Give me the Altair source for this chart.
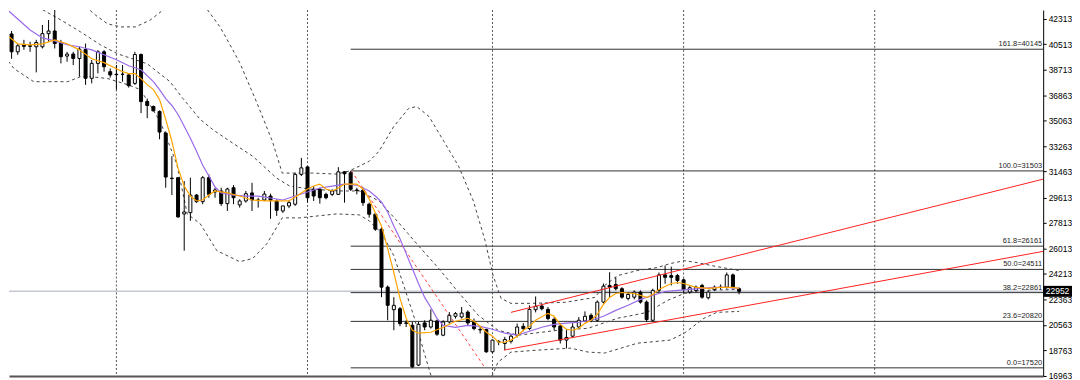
import altair as alt
import pandas as pd

# ---------------- data ----------------
opens = [39610, 41230, 39960, 40460, 40390, 40320, 40320, 41250, 41440, 40620,
         39660, 39800, 39490, 40120, 38080, 39140, 39960, 38550, 38370, 38360,
         38320, 37720, 39770, 36430, 36080, 35730, 34190, 30990, 31020, 28450,
         28540, 29790, 29320, 31020, 30010, 30080, 29180, 30310, 29090, 29370,
         29940, 29440, 29440, 29720, 29370, 28660, 29020, 29140, 31260, 31790,
         30200, 30200, 29840, 29840, 29840, 31440, 31370, 30150, 30130, 29140,
         28430, 27370, 23250, 21650, 21720, 20710, 20540, 17720, 20710, 20420,
         20850, 19840, 20780, 21180, 21130, 21480, 20780, 20240, 20240, 18660,
         19370, 19250, 19410, 19840, 20470, 20310, 21650, 21910, 21670, 20970,
         20490, 19490, 19770, 20420, 20850, 21250, 20900, 22190, 23370, 23440,
         23140, 22450, 22540, 22900, 22190, 20900, 23020, 24120, 24070, 24070,
         23770, 22900, 23020, 23370, 22500, 23070, 23230, 23250, 24120, 23140]
highs = [41440, 41440, 40530, 40810, 40670, 40810, 41870, 42220, 43020, 40810,
         39960, 39960, 40320, 40550, 39380, 40080, 40080, 38780, 39020, 39020,
         38430, 39960, 39840, 36640, 36150, 35800, 34310, 32550, 31060, 30780,
         31020, 29860, 31140, 31260, 30310, 30310, 30310, 30500, 29490, 30080,
         30660, 29600, 30080, 29890, 29490, 29020, 29420, 31370, 32430, 31840,
         30430, 30310, 29960, 30200, 31770, 31490, 31500, 30310, 30310, 29250,
         28540, 27490, 23370, 22540, 21840, 20900, 20780, 20780, 20900, 21670,
         20950, 20900, 21480, 21480, 21840, 21600, 21020, 20420, 20310, 19530,
         19490, 19720, 19910, 20660, 20690, 21960, 22590, 22100, 21840, 21110,
         20690, 20190, 20690, 21130, 21530, 21390, 22310, 23510, 24310, 23950,
         23250, 22900, 23020, 23020, 22310, 23140, 24290, 24780, 24710, 24190,
         23860, 23370, 23370, 23490, 23020, 23370, 23440, 24290, 24220, 23230]
lows = [39470, 39470, 39750, 40100, 39960, 38500, 40200, 40670, 40200, 39140,
        39260, 39020, 38200, 37610, 37720, 38430, 38550, 38130, 37260, 37840,
        37420, 37610, 35610, 35250, 35730, 33750, 30310, 29790, 28170, 25840,
        27960, 29230, 29140, 29600, 29600, 29020, 28660, 29140, 28900, 29250,
        28660, 28900, 29370, 28100, 28310, 28520, 28860, 29020, 31140, 29250,
        29370, 29180, 29490, 29720, 29790, 29250, 30080, 29840, 29020, 28190,
        27250, 22540, 20900, 20190, 20470, 20420, 17490, 17650, 20190, 20310,
        19790, 19770, 20660, 21020, 21020, 20540, 20190, 19960, 18590, 18590,
        19130, 18780, 19250, 19680, 20120, 20190, 21460, 21600, 20900, 20190,
        19250, 18900, 19630, 20330, 20760, 20760, 20780, 22080, 22540, 23020,
        22430, 22310, 22380, 22080, 20780, 20780, 22900, 23490, 23370, 23490,
        22870, 22780, 22870, 22430, 22380, 22970, 23090, 23140, 23140, 22740]
closes = [41230, 39960, 40390, 40350, 40350, 40620, 41250, 41440, 40550, 39610,
          39800, 39490, 40150, 38080, 39140, 39960, 38900, 38320, 38340, 38370,
          37560, 39770, 36430, 36150, 35770, 34260, 31070, 30960, 28240, 28590,
          29790, 29320, 31020, 29840, 30150, 29180, 30220, 29600, 29370, 29890,
          29440, 29410, 29860, 29420, 28710, 29020, 29250, 31260, 31720, 29600,
          29720, 29600, 29600, 30080, 31440, 31300, 30200, 30110, 29250, 28430,
          27370, 23250, 21960, 21960, 20660, 20680, 17600, 20610, 20420, 20900,
          19910, 20780, 21250, 21370, 21410, 20710, 20310, 20220, 18660, 19490,
          19400, 19530, 19770, 20420, 20300, 21670, 21890, 21720, 21020, 20420,
          19490, 19680, 20420, 20900, 21180, 20900, 22190, 23320, 23250, 23140,
          22540, 22730, 22900, 22190, 20950, 23020, 24120, 23950, 23950, 23720,
          23070, 23210, 23250, 22540, 22900, 23250, 23250, 24120, 23250, 22952]

# fast moving average (orange)
fast_x = [0, 2, 4, 6, 8, 10, 12, 14, 16, 18, 19, 20, 21, 22, 23, 24, 25, 26, 27, 28,
          29, 30, 31, 32, 33, 34, 35, 36, 38, 40, 42, 44, 46, 47, 48, 49, 50, 51, 52, 53,
          54, 55, 57, 58, 59, 60, 61, 62, 63, 64, 65, 66, 67, 69, 71, 73, 75, 76, 77, 78,
          79, 80, 81, 82, 83, 84, 85, 86, 88, 89, 90, 91, 92, 93, 94, 95, 96, 97, 98, 99,
          100, 102, 104, 105, 106, 107, 108, 109, 110, 112, 114, 116, 118, 119]
fast_y = [41230, 40530, 40460, 40530, 40810, 40530, 40100, 39470, 39190, 38760,
          38550, 38410, 38410, 38060, 37630, 37280, 36570, 35160, 33610, 31700,
          30430, 29720, 29370, 29440, 29790, 30080, 30010, 29940, 29720, 29440,
          29370, 29370, 29370, 29650, 29930, 30220, 30430, 30570, 30220, 30080,
          30290, 30570, 30570, 30220, 29510, 28520, 27600, 25980, 24290, 22450,
          21040, 20190, 19980, 20050, 20400, 20830, 21040, 20830, 20470, 20050,
          19770, 19340, 19340, 19490, 19770, 20190, 20470, 20900, 21390, 21180,
          20610, 20260, 20190, 20330, 20680, 20900, 21320, 22030, 22520, 22800,
          22870, 22800, 22520, 22730, 23090, 23300, 23510, 23580, 23510, 23230,
          23160, 23230, 23230, 23160]

# slow moving average (purple)
slow_x = [0, 2, 4, 6, 8, 10, 12, 14, 16, 18, 20, 22, 24, 25, 26, 27, 28, 29, 30, 31,
          32, 33, 34, 35, 37, 39, 41, 43, 45, 47, 49, 51, 53, 55, 57, 58, 59, 60, 61, 62,
          63, 64, 65, 66, 67, 68, 69, 70, 71, 73, 75, 77, 79, 81, 83, 85, 87, 89, 91, 93,
          95, 97, 99, 101, 103, 105, 107, 109, 111, 113, 115, 117, 119]
slow_y = [43070, 42290, 41510, 40950, 40740, 40460, 40320, 40100, 39750, 39400,
          38970, 38690, 37840, 37280, 36640, 36150, 35510, 34670, 33820, 32900,
          31910, 31140, 30360, 29940, 29790, 29720, 29720, 29580, 29440, 29720,
          30010, 30290, 30430, 30570, 30500, 30290, 30080, 29720, 29300, 28590,
          27600, 26690, 25630, 24570, 23510, 22520, 21810, 21040, 20540, 20400,
          20540, 20470, 20260, 19980, 19840, 20120, 20400, 20610, 20690, 20760,
          20900, 21180, 21600, 21960, 22380, 22660, 22940, 23020, 23090, 23160,
          23230, 23230, 23160]

# Bollinger bands (dashed)
upper_x = [8.2, 12.2, 14.6, 16.6, 18.7, 21.1, 23.5, 27.2, 29.3, 31.2,
           32.8, 34.8, 35.9, 38.0, 40.7, 43.3, 44.9, 47.2, 49.8, 53.7, 55.7, 57.4,
           59.0, 60.6, 63.0, 65.4, 66.7, 68.7, 71.1, 73.5, 75.9, 77.8,
           79.1, 80.4, 82.0, 85.3, 90.7, 95.6, 97.2, 99.3, 102.5, 105.7,
           107.8, 110.1, 112.2, 115.4, 119.0]
upper_y = [45260, 43490, 42570, 41940, 41730, 41730, 42220, 43490, 44060, 43490,
           42930, 41730, 40880, 39190, 36430, 33610, 31350, 31350, 31350, 31280, 31490, 31840,
           32190, 32900, 34670, 35940, 36080, 35370, 33610, 31840, 29370, 26550,
           24070, 22450, 22100, 22100, 22170, 22520, 23370, 24070, 24430, 24640,
           24920, 25130, 24990, 24710, 24430]
mid_x = [-0.7, 3.8, 9.0, 12.2, 15.4, 18.2, 23.0, 26.7, 28.8, 31.6, 33.6, 36.4, 40.1,
         44.0, 46.1, 49.3, 54.1, 57.4, 60.6, 63.8, 67.0, 70.3, 73.5,
         76.7, 79.9, 83.2, 89.6, 94.5, 99.3, 104.1, 107.4, 110.1, 112.7, 119.0]
mid_y = [44620, 43490, 42220, 41370, 40460, 39820, 39110, 37840, 36640, 35160, 34450, 33610, 32550,
         30990, 30430, 30220, 30080, 30080, 29370, 27820, 26190, 24570, 22870,
         21250, 20190, 19840, 20190, 20330, 21040, 21460, 22310, 22800, 23020, 23090]
lower_x = [-0.7, 1.4, 4.6, 10.1, 12.2, 13.8, 16.6, 19.8, 21.9, 25.1,
           27.8, 29.5, 31.6, 34.3, 38.0, 40.1, 42.4, 44.9, 47.7, 53.7,
           57.4, 59.0, 61.1, 63.0, 64.6, 66.2, 67.8, 69.0, 70.3, 75.1,
           78.3, 79.9, 82.0, 86.4, 91.7, 94.5, 97.2, 102.5, 107.8, 110.1,
           113.3, 115.4, 119.0]
lower_y = [39960, 38760, 37840, 37840, 38200, 38200, 38060, 37630, 37280, 35020,
           31980, 28450, 27750, 25840, 25060, 25280, 26330, 28170, 28170, 28450,
           28380, 27960, 27040, 25490, 23370, 21250, 18780, 17010, 15250, 13840,
           16310, 17930, 18640, 18780, 18920, 18640, 18570, 19270, 19490, 19980,
           21040, 21460, 21530]

# Fibonacci retracement
fib_levels = [161.8, 100.0, 61.8, 50.0, 38.2, 23.6, 0.0]
fib_prices = [40145, 31503, 26161, 24511, 22861, 20820, 17520]
fib_start = 56.0

# trend lines (red)
chan_up_x = [82.0, 168.32]
chan_up_y = [21460, 30920]
chan_lo_x = [80.85, 168.32]
chan_lo_y = [18780, 25790]
fib_diag_x = [56.1, 77.8]
fib_diag_y = [31503, 17520]

# month separators (bar index) and price axis ticks
month_bars = [18, 49, 79, 110, 141]
y_ticks = [42313, 40513, 38713, 36863, 35063, 33263, 31463, 29613, 27813,
           26013, 24213, 22363, 20563, 18763, 16963]
last_price = 22952

# ---------------- frames ----------------
X_DOM = [0.58, 168.32]
Y_DOM = [16943, 42927]

candles = pd.DataFrame({"bar": list(range(len(opens))), "open": opens, "high": highs,
                        "low": lows, "close": closes})
candles["up"] = candles["close"] >= candles["open"]
candles["top"] = candles[["open", "close"]].max(axis=1)
candles["bot"] = candles[["open", "close"]].min(axis=1)

bands = pd.concat([
    pd.DataFrame({"x": upper_x, "y": upper_y, "band": "upper"}),
    pd.DataFrame({"x": mid_x, "y": mid_y, "band": "mid"}),
    pd.DataFrame({"x": lower_x, "y": lower_y, "band": "lower"}),
])
channels = pd.concat([
    pd.DataFrame({"x": chan_up_x, "y": chan_up_y, "id": "up"}),
    pd.DataFrame({"x": chan_lo_x, "y": chan_lo_y, "id": "lo"}),
])
diag = pd.DataFrame({"x": fib_diag_x, "y": fib_diag_y})
fast = pd.DataFrame({"x": fast_x, "y": fast_y})
slow = pd.DataFrame({"x": slow_x, "y": slow_y})
fib = pd.DataFrame({"price": fib_prices,
                    "label": [f"{l:.1f}={p}" for l, p in zip(fib_levels, fib_prices)],
                    "x0": fib_start, "x1": X_DOM[1]})
months = pd.DataFrame({"bar": month_bars})
price_df = pd.DataFrame({"p": [last_price], "t": [str(last_price)],
                         "top": [last_price + 390], "bot": [last_price - 390]})

xs = alt.Scale(domain=X_DOM, nice=False, zero=False, padding=0)
ys = alt.Scale(domain=Y_DOM, nice=False, zero=False, padding=0)
x_axis = alt.Axis(labels=False, ticks=False, grid=False, title=None,
                  domainColor="#555555", domainWidth=2)
y_axis = alt.Axis(orient="right", values=y_ticks, format="d", title=None, grid=False,
                  labelFont="Liberation Sans", labelFontSize=8.5, labelColor="#000000",
                  tickColor="#000000", tickSize=3, labelPadding=2, domainColor="#000000",
                  labelOverlap=False, labelFlush=False)


def xq(f):
    return alt.X(f, type="quantitative", scale=xs, axis=x_axis)


def yq(f):
    return alt.Y(f, type="quantitative", scale=ys, axis=y_axis)


grid = alt.Chart(months).mark_rule(color="#555555", strokeDash=[2, 2], strokeWidth=1).encode(
    x=xq("bar"))
pline = alt.Chart(price_df).mark_rule(color="#c3c8d2", strokeWidth=1.5).encode(y=yq("p"))
fib_rules = alt.Chart(fib).mark_rule(color="#303030", strokeWidth=1, clip=True).encode(
    x=xq("x0"), x2="x1", y=yq("price"))
fib_text = alt.Chart(fib).mark_text(align="right", baseline="bottom", dx=-1, dy=-1,
                                    font="Liberation Sans", fontSize=7.5, color="#222222").encode(
    x=xq("x1"), y=yq("price"), text="label")
band_lines = alt.Chart(bands).mark_line(color="#444444", strokeDash=[3, 3], strokeWidth=1,
                                        clip=True).encode(x=xq("x"), y=yq("y"), detail="band")
wicks = alt.Chart(candles).mark_rule(color="#000000", strokeWidth=1, clip=True).encode(
    x=xq("bar"), y=yq("low"), y2="high")
bodies = alt.Chart(candles).mark_bar(size=3, stroke="#000000", strokeWidth=1, orient="vertical",
                                     clip=True).encode(
    x=xq("bar"), y=yq("bot"), y2="top",
    fill=alt.when(alt.datum.up).then(alt.value("#ffffff")).otherwise(alt.value("#000000")))
diag_line = alt.Chart(diag).mark_line(color="#ff4040", strokeDash=[3, 3], strokeWidth=1,
                                      clip=True).encode(x=xq("x"), y=yq("y"))
chan_lines = alt.Chart(channels).mark_line(color="#ff2020", strokeWidth=1, clip=True).encode(
    x=xq("x"), y=yq("y"), detail="id")
slow_line = alt.Chart(slow).mark_line(color="#9a6ae8", strokeWidth=1.2, clip=True).encode(
    x=xq("x"), y=yq("y"))
fast_line = alt.Chart(fast).mark_line(color="#ffa500", strokeWidth=1.2, clip=True).encode(
    x=xq("x"), y=yq("y"))
tag_box = alt.Chart(price_df).mark_rect(color="#000000").encode(
    x=alt.value(1040), x2=alt.value(1069), y=yq("top"), y2="bot")
tag_text = alt.Chart(price_df).mark_text(color="#ffffff", font="Liberation Sans", fontSize=8.5,
                                         align="center", baseline="middle").encode(
    x=alt.value(1054.5), y=yq("p"), text="t")

chart = alt.layer(
    grid, pline, fib_rules, fib_text, band_lines, diag_line, wicks, bodies,
    slow_line, fast_line, chan_lines, tag_box, tag_text
).properties(width=1040, height=368, padding=0, background="#ffffff").configure_view(stroke=None)

chart.save("out.html", embed_options={"renderer": "svg", "actions": False})
